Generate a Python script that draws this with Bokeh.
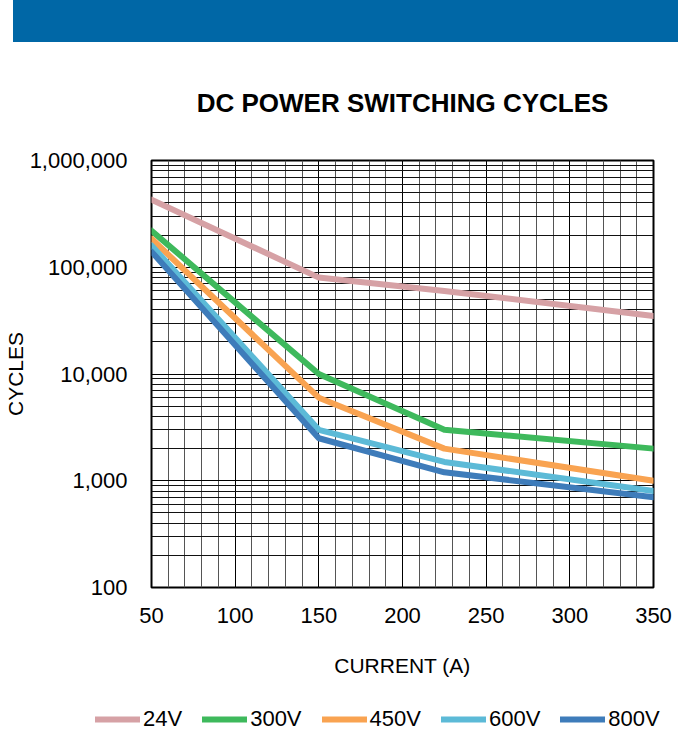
from bokeh.plotting import figure
from bokeh.models import (FixedTicker, NumeralTickFormatter, Legend, LegendItem,
                          Range1d, Title, Div)
from bokeh.layouts import column
from bokeh.embed import file_html
from bokeh.resources import INLINE

current = [50, 150, 225, 350]
v24 = [430000, 80000, 60000, 35000]
v300 = [220000, 10000, 3000, 2000]
v450 = [185000, 6000, 2000, 1000]
v600 = [160000, 3000, 1500, 800]
v800 = [140000, 2500, 1200, 700]
series_names = ["24V", "300V", "450V", "600V", "800V"]
series_vals = [v24, v300, v450, v600, v800]
colors = ["#D6A1A5", "#3EB95C", "#F9A351", "#5CBAD7", "#3E7CBA"]

x_ticks = [50, 100, 150, 200, 250, 300, 350]
y_ticks = [100, 1000, 10000, 100000, 1000000]

FONT = "Liberation Sans"

header = Div(text="", width=665, height=42,
             styles={"background-color": "#0067A6"},
             margin=(0, 0, 0, 13))

p = figure(width=678, height=662, output_backend="svg", toolbar_location=None,
           y_axis_type="log", x_range=Range1d(50, 350), y_range=Range1d(100, 1000000),
           min_border_left=148, min_border_right=25, min_border_top=118,
           min_border_bottom=117)
p.frame_align = False

p.add_layout(Title(text="DC POWER SWITCHING CYCLES", align="center",
                   text_font=FONT, text_font_size="26px", text_font_style="bold",
                   text_color="#000000", standoff=86), "above")

p.outline_line_color = "black"
p.outline_line_width = 2

minor_y = []
for d in [100, 1000, 10000, 100000]:
    minor_y += [d * k for k in range(2, 10)]
p.yaxis.ticker = FixedTicker(ticks=y_ticks, minor_ticks=minor_y)
p.xaxis.ticker = FixedTicker(ticks=x_ticks, minor_ticks=list(range(50, 351, 10)))
p.yaxis.formatter = NumeralTickFormatter(format="0,0")

for ax in (p.xaxis, p.yaxis):
    ax.axis_line_color = None
    ax.major_tick_line_color = None
    ax.minor_tick_line_color = None
    ax.major_label_text_font = FONT
    ax.major_label_text_font_size = "22px"
    ax.major_label_text_color = "#000000"
    ax.axis_label_text_font = FONT
    ax.axis_label_text_font_size = "21px"
    ax.axis_label_text_font_style = "normal"
    ax.axis_label_text_color = "#000000"

p.xaxis.axis_label = "CURRENT (A)"
p.yaxis.axis_label = "CYCLES"
p.xaxis.major_label_standoff = 14
p.yaxis.major_label_standoff = 18
p.xaxis.axis_label_standoff = 28
p.yaxis.axis_label_standoff = 0

p.xgrid.grid_line_color = "black"
p.xgrid.minor_grid_line_color = "#555555"
p.ygrid.grid_line_color = "black"
p.ygrid.minor_grid_line_color = "#111111"
for g in (p.xgrid, p.ygrid):
    g.grid_line_alpha = 1
    g.grid_line_width = 1
    g.minor_grid_line_alpha = 1
    g.minor_grid_line_width = 1

for name, vals, c in zip(series_names, series_vals, colors):
    p.line(current, vals, line_color=c, line_width=6, line_cap="round",
           line_join="round")

# legend strip: same series, drawn in a strip whose ranges keep the lines off-frame
lf = figure(width=678, height=28, output_backend="svg", toolbar_location=None,
            x_range=Range1d(-10, -9), y_range=Range1d(-10, -9),
            x_axis_location=None, y_axis_location=None,
            min_border=0, min_border_left=0, min_border_right=0,
            min_border_top=0, min_border_bottom=0)
lf.frame_align = False
lf.grid.visible = False
lf.outline_line_color = None
items = []
for name, vals, c in zip(series_names, series_vals, colors):
    r = lf.line(current, vals, line_color=c, line_width=6, line_cap="round")
    items.append(LegendItem(label=name, renderers=[r]))

legend = Legend(items=items, orientation="horizontal", location=(95, 0),
                label_text_font=FONT, label_text_font_size="22px",
                label_text_color="#000000", glyph_width=45, glyph_height=24,
                label_standoff=3, spacing=20, border_line_color=None,
                background_fill_alpha=0, margin=0, padding=0)
lf.add_layout(legend)

layout = column(header, p, lf)
open("out.html", "w").write(file_html(layout, INLINE))
